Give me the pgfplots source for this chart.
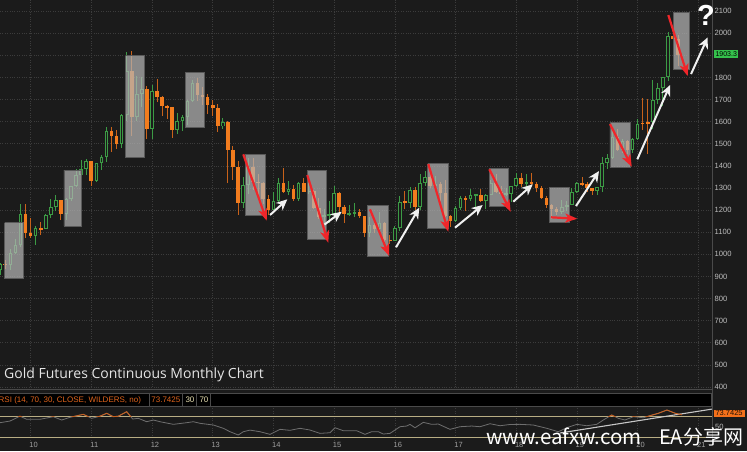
\documentclass[border=0pt]{standalone}
\usepackage{pgfplots}
\pgfplotsset{compat=1.18}
\usepackage{pgfplotstable}
\usepackage{fontspec}
\setmainfont{Liberation Sans}
\newfontfamily\titlefont{Open Sans}
\newfontfamily\cjk{Noto Sans CJK SC}
\usetikzlibrary{arrows.meta}

\definecolor{bg}{HTML}{1B1B1B}
\definecolor{upc}{HTML}{3C9B45}
\definecolor{dnc}{HTML}{F27C1E}
\definecolor{dnwick}{HTML}{C9621A}
\definecolor{gridc}{HTML}{3C3C3C}
\definecolor{tickc}{HTML}{BDBDBD}
\definecolor{boxc}{HTML}{B4B4B4}
\definecolor{boxedge}{HTML}{5A5A5A}
\definecolor{arrred}{HTML}{F0262A}
\definecolor{rsiline}{HTML}{6E6E6E}
\definecolor{rsiorange}{HTML}{C8601E}
\definecolor{rsitan}{HTML}{B8AD84}
\definecolor{hdrorange}{HTML}{E0641C}
\definecolor{hdrcream}{HTML}{E8E0B0}
\definecolor{pricegreen}{HTML}{35C04C}
\definecolor{sep}{HTML}{4A4A4A}

% monthly OHLC, gold futures continuous
\pgfplotstableread{
yr mo o h l c
2009 7 927 962 905 955
2009 8 956 974 932 952
2009 9 952 1024 931 1008
2009 10 1008 1070 1003 1040
2009 11 1040 1227 1033 1182
2009 12 1182 1226 1075 1097
2010 1 1097 1162 1072 1081
2010 2 1081 1128 1044 1118
2010 3 1118 1145 1086 1115
2010 4 1115 1183 1113 1180
2010 5 1180 1249 1163 1212
2010 6 1212 1266 1196 1245
2010 7 1245 1246 1155 1181
2010 8 1181 1254 1157 1248
2010 9 1248 1310 1242 1307
2010 10 1307 1388 1305 1357
2010 11 1357 1425 1331 1385
2010 12 1385 1432 1357 1421
2011 1 1421 1424 1309 1333
2011 2 1333 1415 1326 1411
2011 3 1411 1448 1381 1439
2011 4 1439 1576 1418 1556
2011 5 1556 1577 1462 1536
2011 6 1536 1561 1478 1500
2011 7 1500 1633 1480 1628
2011 8 1628 1917 1603 1829
2011 9 1829 1920 1535 1620
2011 10 1620 1806 1604 1725
2011 11 1725 1804 1665 1746
2011 12 1746 1761 1523 1566
2012 1 1566 1764 1523 1740
2012 2 1740 1792 1687 1711
2012 3 1711 1718 1627 1669
2012 4 1669 1676 1612 1664
2012 5 1664 1668 1527 1561
2012 6 1561 1641 1545 1604
2012 7 1604 1630 1556 1622
2012 8 1622 1697 1583 1692
2012 9 1692 1790 1687 1776
2012 10 1776 1798 1693 1719
2012 11 1719 1755 1674 1711
2012 12 1711 1726 1636 1675
2013 1 1675 1697 1626 1663
2013 2 1663 1681 1554 1578
2013 3 1578 1617 1565 1597
2013 4 1597 1604 1322 1472
2013 5 1472 1488 1338 1393
2013 6 1393 1424 1180 1234
2013 7 1234 1348 1208 1313
2013 8 1313 1434 1271 1396
2013 9 1396 1434 1292 1327
2013 10 1327 1362 1251 1323
2013 11 1323 1327 1228 1250
2013 12 1250 1267 1180 1202
2014 1 1202 1280 1200 1240
2014 2 1240 1346 1238 1321
2014 3 1321 1392 1278 1284
2014 4 1284 1331 1268 1296
2014 5 1296 1315 1240 1250
2014 6 1250 1326 1240 1322
2014 7 1322 1346 1282 1282
2014 8 1282 1323 1273 1287
2014 9 1287 1293 1206 1210
2014 10 1210 1256 1160 1171
2014 11 1171 1205 1131 1175
2014 12 1175 1240 1142 1184
2015 1 1184 1308 1167 1279
2015 2 1279 1283 1191 1213
2015 3 1213 1225 1142 1183
2015 4 1183 1224 1174 1184
2015 5 1184 1232 1170 1190
2015 6 1190 1205 1162 1172
2015 7 1172 1175 1077 1095
2015 8 1095 1170 1080 1132
2015 9 1132 1157 1098 1115
2015 10 1115 1192 1111 1142
2015 11 1142 1146 1052 1065
2015 12 1065 1089 1046 1061
2016 1 1061 1130 1060 1117
2016 2 1117 1263 1107 1238
2016 3 1238 1287 1206 1234
2016 4 1234 1306 1210 1291
2016 5 1291 1305 1200 1216
2016 6 1216 1362 1200 1322
2016 7 1322 1377 1310 1350
2016 8 1350 1375 1302 1309
2016 9 1309 1353 1303 1317
2016 10 1317 1327 1241 1277
2016 11 1277 1338 1171 1173
2016 12 1173 1180 1124 1152
2017 1 1152 1220 1146 1211
2017 2 1211 1264 1200 1253
2017 3 1253 1264 1196 1249
2017 4 1249 1297 1243 1267
2017 5 1267 1270 1215 1269
2017 6 1269 1297 1236 1242
2017 7 1242 1275 1205 1270
2017 8 1270 1335 1267 1322
2017 9 1322 1362 1278 1284
2017 10 1284 1308 1262 1271
2017 11 1271 1300 1265 1275
2017 12 1275 1311 1236 1309
2018 1 1309 1366 1303 1345
2018 2 1345 1366 1304 1318
2018 3 1318 1365 1303 1327
2018 4 1327 1369 1310 1316
2018 5 1316 1326 1282 1301
2018 6 1301 1310 1250 1253
2018 7 1253 1265 1211 1224
2018 8 1224 1227 1160 1206
2018 9 1206 1215 1180 1192
2018 10 1192 1246 1182 1215
2018 11 1215 1243 1196 1223
2018 12 1223 1300 1221 1282
2019 1 1282 1326 1276 1321
2019 2 1321 1349 1310 1316
2019 3 1316 1327 1281 1298
2019 4 1298 1302 1267 1285
2019 5 1285 1306 1266 1305
2019 6 1305 1442 1281 1414
2019 7 1414 1453 1385 1437
2019 8 1437 1566 1433 1529
2019 9 1529 1566 1465 1472
2019 10 1472 1520 1459 1514
2019 11 1514 1517 1454 1473
2019 12 1473 1525 1458 1523
2020 1 1523 1611 1518 1589
2020 2 1596 1705 1560 1588
2020 3 1597 1704 1453 1590
2020 4 1600 1788 1567 1700
2020 5 1700 1775 1680 1751
2020 6 1751 1800 1671 1800
2020 7 1800 2005 1783 1986
2020 8 1986 2089 1863 1973
2020 9 1973 1992 1851 1903
}\gold

% RSI(14)
\pgfplotstableread{
t v
2009.496 58.4
2009.661 61.6
2009.825 71.0
2009.936 65.0
2010.155 65.0
2010.374 70.0
2010.512 63.6
2010.649 68.8
2010.868 74.6
2011.007 66.9
2011.143 71.0
2011.254 76.6
2011.362 70.0
2011.445 71.0
2011.583 79.7
2011.682 65.5
2011.774 66.9
2011.913 60.3
2012.021 63.6
2012.132 60.3
2012.351 55.2
2012.572 58.4
2012.680 60.3
2012.791 57.2
2013.010 53.9
2013.175 47.5
2013.285 40.9
2013.422 34.5
2013.504 40.9
2013.614 44.0
2013.779 40.9
2013.944 35.8
2014.109 45.5
2014.273 43.6
2014.438 47.5
2014.603 44.2
2014.768 37.7
2014.932 38.9
2015.015 48.6
2015.152 42.8
2015.372 42.8
2015.509 35.8
2015.619 40.9
2015.728 40.9
2015.811 36.4
2015.921 37.7
2016.086 50.6
2016.196 51.9
2016.250 55.2
2016.333 48.6
2016.470 59.1
2016.608 55.2
2016.717 55.8
2016.909 45.5
2017.074 50.6
2017.267 51.9
2017.404 50.6
2017.568 56.4
2017.733 52.5
2017.900 55.0
2018.063 55.2
2018.282 53.9
2018.503 47.5
2018.694 40.9
2018.833 48.6
2018.997 55.2
2019.161 52.5
2019.326 55.2
2019.435 63.6
2019.573 73.3
2019.682 66.9
2019.792 63.6
2019.929 70.0
2020.094 68.0
2020.204 72.0
2020.341 76.6
2020.483 83.0
2020.621 76.6
2020.728 73.7
}\rsi

\begin{document}
\begin{tikzpicture}[x=1pt,y=1pt]
\useasboundingbox (0,0) rectangle (747,451);
\fill[bg] (0,0) rectangle (747,451);

% ---------------- price panel ----------------
\begin{axis}[
  at={(0pt,62pt)}, anchor=south west,
  scale only axis, width=712.7pt, height=389pt,
  xmin=2009.496, xmax=2021.237,
  ymin=391, ymax=2150,
  axis line style={draw=none},
  no markers,
  xtick={2010,2011,...,2021}, xticklabels={},
  ytick={400,500,...,2100},
  yticklabel pos=right,
  major tick length=0pt,
  grid=major,
  major grid style={gridc, dotted, line width=0.6pt},
  yticklabel style={font=\fontsize{7.6}{8}\selectfont, text=tickc, xshift=-1.5pt},
  /pgf/number format/assume math mode=true,
  /pgf/number format/set thousands separator={},
]
% up candles: wick, body, hollow interior
\addplot[draw=none, mark=none, forget plot,
  restrict expr to domain={\thisrow{c}-\thisrow{o}}{0:100000},
  error bars/.cd, y dir=both, y explicit, error mark=none,
  error bar style={draw=upc, line width=0.9pt, line cap=butt}]
  table[x expr=\thisrow{yr}+(\thisrow{mo}-1)/12,
        y expr=(\thisrow{h}+\thisrow{l})/2,
        y error expr=(\thisrow{h}-\thisrow{l})/2]{\gold};
\addplot[draw=none, mark=none, forget plot,
  restrict expr to domain={\thisrow{c}-\thisrow{o}}{0:100000},
  error bars/.cd, y dir=both, y explicit, error mark=none,
  error bar style={draw=upc, line width=3.6pt, line cap=butt}]
  table[x expr=\thisrow{yr}+(\thisrow{mo}-1)/12,
        y expr=(\thisrow{o}+\thisrow{c})/2,
        y error expr={max(abs(\thisrow{c}-\thisrow{o})/2,3)}]{\gold};
\addplot[draw=none, mark=none, forget plot,
  restrict expr to domain={\thisrow{c}-\thisrow{o}}{12:100000},
  error bars/.cd, y dir=both, y explicit, error mark=none,
  error bar style={draw=bg, line width=1.6pt, line cap=butt}]
  table[x expr=\thisrow{yr}+(\thisrow{mo}-1)/12,
        y expr=(\thisrow{o}+\thisrow{c})/2,
        y error expr={abs(\thisrow{c}-\thisrow{o})/2-4.5}]{\gold};
% down candles: wick, filled body
\addplot[draw=none, mark=none, forget plot,
  restrict expr to domain={\thisrow{o}-\thisrow{c}}{0.001:100000},
  error bars/.cd, y dir=both, y explicit, error mark=none,
  error bar style={draw=dnwick, line width=0.9pt, line cap=butt}]
  table[x expr=\thisrow{yr}+(\thisrow{mo}-1)/12,
        y expr=(\thisrow{h}+\thisrow{l})/2,
        y error expr=(\thisrow{h}-\thisrow{l})/2]{\gold};
\addplot[draw=none, mark=none, forget plot,
  restrict expr to domain={\thisrow{o}-\thisrow{c}}{0.001:100000},
  error bars/.cd, y dir=both, y explicit, error mark=none,
  error bar style={draw=dnc, line width=3.6pt, line cap=butt}]
  table[x expr=\thisrow{yr}+(\thisrow{mo}-1)/12,
        y expr=(\thisrow{o}+\thisrow{c})/2,
        y error expr={max(abs(\thisrow{c}-\thisrow{o})/2,3)}]{\gold};

% grey consolidation boxes
\pgfplotsset{box/.style={draw=boxedge, fill=boxc, fill opacity=0.72, line width=0.7pt, mark=none}}
\addplot[box] coordinates {(2009.573,1142.9) (2009.880,1142.9) (2009.880,892.9) (2009.573,892.9) (2009.573,1142.9)};
\addplot[box] coordinates {(2010.550,1381.2) (2010.842,1381.2) (2010.842,1128.0) (2010.550,1128.0) (2010.550,1381.2)};
\addplot[box] coordinates {(2011.567,1897.9) (2011.873,1897.9) (2011.873,1440.0) (2011.567,1440.0) (2011.567,1897.9)};
\addplot[box] coordinates {(2012.549,1821.1) (2012.857,1821.1) (2012.857,1574.2) (2012.549,1574.2) (2012.549,1821.1)};
\addplot[box] coordinates {(2013.544,1452.2) (2013.862,1452.2) (2013.862,1177.8) (2013.544,1177.8) (2013.544,1452.2)};
\addplot[box] coordinates {(2014.565,1379.8) (2014.878,1379.8) (2014.878,1067.9) (2014.565,1067.9) (2014.565,1379.8)};
\addplot[box] coordinates {(2015.547,1219.8) (2015.893,1219.8) (2015.893,992.4) (2015.547,992.4) (2015.547,1219.8)};
\addplot[box] coordinates {(2016.542,1409.7) (2016.888,1409.7) (2016.888,1115.8) (2016.542,1115.8) (2016.542,1409.7)};
\addplot[box] coordinates {(2017.557,1388.9) (2017.870,1388.9) (2017.870,1218.4) (2017.557,1218.4) (2017.557,1388.9)};
\addplot[box] coordinates {(2018.545,1301.2) (2018.875,1301.2) (2018.875,1144.8) (2018.545,1144.8) (2018.545,1301.2)};
\addplot[box] coordinates {(2019.545,1596.8) (2019.875,1596.8) (2019.875,1393.4) (2019.545,1393.4) (2019.545,1596.8)};
\addplot[box] coordinates {(2020.583,2092.0) (2020.852,2092.0) (2020.852,1836.4) (2020.583,1836.4) (2020.583,2092.0)};

% red arrows
\pgfplotsset{redarrow/.style={arrred, line width=2.2pt, mark=none, -{Stealth[length=12pt,width=9pt,inset=3pt]}}}
\addplot[redarrow] coordinates {(2013.504,1452.2) (2013.890,1152.0)};
\addplot[redarrow] coordinates {(2014.558,1358.6) (2014.904,1052.5)};
\addplot[redarrow] coordinates {(2015.591,1203.5) (2015.909,992.4)};
\addplot[redarrow] coordinates {(2016.552,1408.3) (2016.882,1102.3)};
\addplot[redarrow] coordinates {(2017.557,1384.4) (2017.909,1192.7)};
\addplot[redarrow] coordinates {(2018.573,1167.4) (2019.006,1161.0)};
\addplot[redarrow] coordinates {(2019.545,1589.2) (2019.903,1396.1)};
\addplot[redarrow] coordinates {(2020.506,2081.9) (2020.825,1806.1)};

% white arrows
\pgfplotsset{whitearrow/.style={white!94!black, line width=2pt, mark=none, -{Stealth[length=11pt,width=10pt,inset=3.5pt]}}}
\addplot[whitearrow] coordinates {(2013.944,1177.8) (2014.229,1248.7)};
\addplot[whitearrow] coordinates {(2014.842,1134.8) (2015.125,1192.7)};
\addplot[whitearrow] coordinates {(2016.020,1031.7) (2016.404,1210.8)};
\addplot[whitearrow] coordinates {(2016.992,1120.3) (2017.448,1223.0)};
\addplot[whitearrow] coordinates {(2017.952,1237.9) (2018.272,1316.5)};
\addplot[whitearrow] coordinates {(2018.985,1218.4) (2019.364,1376.7)};
\addplot[whitearrow] coordinates {(2019.995,1429.6) (2020.534,1765.5)};
\addplot[whitearrow] coordinates {(2020.880,1815.2) (2021.155,1981.1)};
\end{axis}

% ---------------- RSI panel ----------------
\begin{axis}[
  at={(0pt,11pt)}, anchor=south west,
  scale only axis, width=712.7pt, height=34pt,
  xmin=2009.496, xmax=2021.237,
  ymin=24.8, ymax=90.8,
  axis line style={draw=none},
  no markers,
  xtick={2010,2011,...,2021},
  xticklabels={10,11,12,13,14,15,16,17,18,19,20,21},
  ytick=\empty,
  major tick length=0pt,
  xmajorgrids,
  major grid style={gridc, dotted, line width=0.6pt},
  xticklabel style={font=\fontsize{7.5}{8}\selectfont, text=tickc!85!black, xshift=3pt, yshift=1.5pt},
]
\addplot[rsitan, line width=1pt] coordinates {(2009.496,70) (2021.237,70)};
\addplot[rsitan, line width=1pt] coordinates {(2009.496,30) (2021.237,30)};
\addplot[rsiline, line width=0.8pt] table[x=t, y=v]{\rsi};
\addplot[white!78!black, line width=1.1pt] coordinates {(2018.720,38.4) (2021.237,85.0)};
\end{axis}

% orange part of the RSI above 70
\begin{axis}[
  at={(0pt,34.3pt)}, anchor=south west,
  scale only axis, width=712.7pt, height=10.7pt,
  xmin=2009.496, xmax=2021.237,
  ymin=70, ymax=90.8,
  hide axis, no markers,
]
\addplot[rsiorange, line width=0.9pt] table[x=t, y=v]{\rsi};
\end{axis}

% panel frames
\draw[sep, line width=0.6pt] (0,62) -- (712.7,62);
\draw[sep, line width=0.6pt] (712.7,451) -- (712.7,11);
\fill[black] (0,45) rectangle (711.7,58);
\draw[sep, line width=0.6pt] (0,58) -- (711.7,58) -- (711.7,45) -- (0,45);
\foreach \xx in {149,182.7,196.7,210.7} \draw[sep, line width=0.6pt] (\xx,45) -- (\xx,58);
\node[anchor=base west, inner sep=0, text=hdrorange, font=\fontsize{8}{9}\selectfont] at (-1.5,48.5) {RSI (14, 70, 30, CLOSE, WILDERS, no)};
\node[anchor=base west, inner sep=0, text=hdrorange, font=\fontsize{8}{9}\selectfont] at (151.2,48.5) {73.7425};
\node[anchor=base west, inner sep=0, text=hdrcream, font=\fontsize{8}{9}\selectfont] at (185.3,48.5) {30};
\node[anchor=base west, inner sep=0, text=hdrcream, font=\fontsize{8}{9}\selectfont] at (199.3,48.5) {70};

% right-hand value labels
\node[anchor=west, fill=pricegreen, text=black, inner xsep=1.5pt, inner ysep=1.2pt, font=\fontsize{7}{7}\selectfont] at (713.8,397) {1903.3};
\node[anchor=west, fill=dnc!90!red, text=black!85!dnc, inner xsep=2pt, inner ysep=1pt, font=\fontsize{7.5}{8}\selectfont] at (713.3,37.7) {73.7425};
\node[anchor=west, inner sep=0, text=tickc, font=\fontsize{7.6}{8}\selectfont] at (715,24.3) {50};

% texts
\node[anchor=base west, inner sep=0, text=white!90!black, font=\titlefont\fontsize{14}{16}\selectfont] at (4,72.5) {Gold Futures Continuous Monthly Chart};
\node[anchor=center, inner sep=0, text=white, font=\bfseries\fontsize{29}{30}\selectfont] at (706,435.5) {?};
\node[anchor=base west, inner sep=0, text=white, font=\cjk\fontsize{20.5}{22}\selectfont] at (486,7) {www.eafxw.com};
\node[anchor=base west, inner sep=0, text=white, font=\cjk\fontsize{20}{22}\selectfont] at (659,7) {EA分享网};
\end{tikzpicture}
\end{document}
